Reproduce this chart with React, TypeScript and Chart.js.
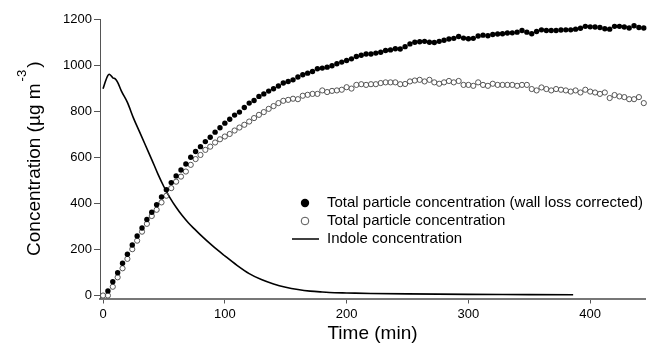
import React, { useEffect, useRef } from "react";
import { Chart, registerables } from "chart.js";

Chart.register(...registerables);

// ---- Data ----
const sampleTime = [
  0, 4, 8, 12, 16, 20, 24, 28, 32, 36, 40, 44, 48, 52, 56, 60, 64, 68, 72, 76,
  80, 84, 88, 92, 96, 100, 104, 108, 112, 116, 120, 124, 128, 132, 136, 140, 144, 148, 152, 156,
  160, 164, 168, 172, 176, 180, 184, 188, 192, 196, 200, 204, 208, 212, 216, 220, 224, 228, 232, 236,
  240, 244, 248, 252, 256, 260, 264, 268, 272, 276, 280, 284, 288, 292, 296, 300, 304, 308, 312, 316,
  320, 324, 328, 332, 336, 340, 344, 348, 352, 356, 360, 364, 368, 372, 376, 380, 384, 388, 392, 396,
  400, 404, 408, 412, 416, 420, 424, 428, 432, 436, 440, 444,
];

const wallLossCorrected = [
  null, 20, 60, 99, 140, 179, 219, 258, 293, 330, 361, 394, 428, 459, 490, 519, 545, 571, 600, 625,
  646, 668, 687, 709, 728, 748, 765, 783, 796, 816, 835, 846, 864, 875, 887, 897, 909, 922, 929, 936,
  948, 958, 965, 972, 984, 987, 991, 997, 1006, 1013, 1020, 1027, 1037, 1043, 1048, 1048, 1052, 1056, 1063, 1066,
  1071, 1070, 1080, 1092, 1099, 1101, 1103, 1099, 1098, 1103, 1108, 1113, 1116, 1124, 1117, 1114, 1116, 1126, 1130, 1127,
  1133, 1135, 1136, 1139, 1140, 1143, 1150, 1143, 1136, 1146, 1153, 1150, 1150, 1150, 1152, 1153, 1153, 1156, 1160, 1168,
  1166, 1165, 1163, 1158, 1156, 1168, 1168, 1165, 1161, 1171, 1163, 1161,
];

const totalParticle = [
  0, 0, 38, 79, 118, 159, 201, 238, 277, 311, 345, 372, 404, 433, 466, 494, 516, 538, 567, 592,
  610, 632, 646, 664, 678, 690, 701, 716, 729, 741, 755, 770, 784, 796, 810, 822, 835, 845, 849, 854,
  852, 867, 871, 875, 875, 890, 883, 888, 890, 893, 904, 898, 914, 917, 914, 917, 917, 922, 925, 925,
  925, 917, 918, 929, 933, 936, 929, 936, 925, 919, 925, 931, 925, 931, 914, 914, 910, 925, 914, 910,
  919, 914, 914, 914, 914, 910, 914, 914, 896, 890, 903, 896, 890, 896, 893, 890, 885, 890, 881, 893,
  885, 881, 875, 881, 857, 870, 864, 861, 852, 852, 861, 835,
];

const indoleTime = [
  0, 2, 4, 5, 6, 8, 10, 12, 15, 20, 25, 30, 35, 40, 45, 50, 55, 60, 65, 70,
  75, 80, 90, 100, 110, 120, 130, 140, 150, 160, 170, 180, 190, 200, 220, 250, 300, 350, 386,
];
const indoleValue = [
  897, 930, 955, 960, 957, 945, 940, 925, 888, 838, 770, 710, 650, 590, 528, 472, 424, 383, 347, 316,
  289, 263, 215, 172, 131, 95, 69, 50, 36, 26, 19, 15, 12, 11, 9, 7, 5, 4, 3,
];

const xTicks = [0, 100, 200, 300, 400];
const yTicks = [0, 200, 400, 600, 800, 1000, 1200];

const legendLabels = [
  "Total particle concentration (wall loss corrected)",
  "Total particle concentration",
  "Indole concentration",
];
const xTitle = "Time (min)";
const yTitleMain = "Concentration (µg m";
const yTitleSup = "-3";
const yTitleEnd = ")";

const FONT = '"Liberation Sans", Arial, sans-serif';

const overlayPlugin = {
  id: "overlay",
  afterDraw(chart: any) {
    const ctx: CanvasRenderingContext2D = chart.ctx;
    const { left, right, top, bottom } = chart.chartArea;
    ctx.save();
    ctx.fillStyle = "#000";

    // X title
    ctx.font = `19px ${FONT}`;
    ctx.textAlign = "center";
    ctx.textBaseline = "middle";
    ctx.fillText(xTitle, (left + right) / 2, 334);

    // Y title (rotated with superscript)
    ctx.save();
    ctx.translate(40, (top + bottom) / 2);
    ctx.rotate(-Math.PI / 2);
    ctx.textAlign = "left";
    ctx.textBaseline = "alphabetic";
    ctx.font = `19px ${FONT}`;
    const w1 = ctx.measureText(yTitleMain).width;
    const w3 = ctx.measureText(yTitleEnd).width;
    ctx.font = `13px ${FONT}`;
    const w2 = ctx.measureText(yTitleSup).width;
    const gap = 2;
    const total = w1 + gap + w2 + gap + w3;
    let x0 = -total / 2;
    ctx.font = `19px ${FONT}`;
    ctx.fillText(yTitleMain, x0, 0);
    x0 += w1 + gap;
    ctx.font = `13px ${FONT}`;
    ctx.fillText(yTitleSup, x0, -14);
    x0 += w2 + gap;
    ctx.font = `19px ${FONT}`;
    ctx.fillText(yTitleEnd, x0, 0);
    ctx.restore();

    // Legend
    const rows = [203, 221, 239];
    ctx.font = `15px ${FONT}`;
    ctx.textAlign = "left";
    ctx.textBaseline = "middle";
    ctx.beginPath();
    ctx.arc(305, rows[0], 4.2, 0, Math.PI * 2);
    ctx.fillStyle = "#000";
    ctx.fill();
    ctx.beginPath();
    ctx.arc(305, rows[1], 3.8, 0, Math.PI * 2);
    ctx.strokeStyle = "#555";
    ctx.lineWidth = 1;
    ctx.stroke();
    ctx.beginPath();
    ctx.moveTo(292, rows[2]);
    ctx.lineTo(319, rows[2]);
    ctx.strokeStyle = "#000";
    ctx.lineWidth = 1.5;
    ctx.stroke();
    ctx.fillStyle = "#000";
    legendLabels.forEach((label, i) => {
      ctx.fillText(label, 327, rows[i]);
    });
    ctx.restore();
  },
};

export default function App() {
  const ref = useRef<HTMLCanvasElement>(null);

  useEffect(() => {
    const filledPts = sampleTime.map((t, i) => ({ x: t, y: wallLossCorrected[i] }));
    const openPts = sampleTime.map((t, i) => ({ x: t, y: totalParticle[i] }));
    const indolePts = indoleTime.map((t, i) => ({ x: t, y: indoleValue[i] }));

    const chart = new Chart(ref.current as HTMLCanvasElement, {
      type: "scatter",
      data: {
        datasets: [
          {
            label: legendLabels[0],
            data: filledPts as any,
            pointRadius: 2.7,
            pointBackgroundColor: "#000",
            pointBorderWidth: 0,
            pointBorderColor: "#000",
            showLine: false,
            clip: false as any,
          },
          {
            label: legendLabels[1],
            data: openPts as any,
            pointRadius: 2.6,
            pointBackgroundColor: "rgba(255,255,255,0)",
            pointBorderColor: "#555",
            pointBorderWidth: 1,
            showLine: false,
            clip: false as any,
          },
          {
            label: legendLabels[2],
            data: indolePts as any,
            showLine: true,
            pointRadius: 0,
            borderColor: "#000",
            borderWidth: 1.6,
            cubicInterpolationMode: "monotone",
            clip: false as any,
          } as any,
        ],
      },
      options: {
        responsive: false,
        animation: false,
        devicePixelRatio: 1,
        layout: { padding: { top: 19, right: 9, left: 0, bottom: 0 } },
        plugins: {
          legend: { display: false },
          tooltip: { enabled: false },
        },
        scales: {
          x: {
            type: "linear",
            min: -2.5,
            max: 445,
            afterFit: (s: any) => {
              s.height = 50.5;
            },
            afterBuildTicks: (s: any) => {
              s.ticks = xTicks.map((v) => ({ value: v }));
            },
            grid: {
              display: true,
              drawOnChartArea: false,
              drawTicks: true,
              tickLength: 5,
              tickColor: "#555",
              tickWidth: 1,
            },
            border: { display: true, color: "#777", width: 2 },
            ticks: {
              font: { family: FONT, size: 13 },
              color: "#000",
              padding: 3,
              maxRotation: 0,
              autoSkip: false,
              callback: (v: any) => String(v),
            },
          },
          y: {
            type: "linear",
            min: -13,
            max: 1200,
            afterFit: (s: any) => {
              s.width = 100;
            },
            afterBuildTicks: (s: any) => {
              s.ticks = yTicks.map((v) => ({ value: v }));
            },
            grid: {
              display: true,
              drawOnChartArea: false,
              drawTicks: true,
              tickLength: 6,
              tickColor: "#555",
              tickWidth: 1,
            },
            border: { display: true, color: "#555", width: 1 },
            ticks: {
              font: { family: FONT, size: 13 },
              color: "#000",
              padding: 2,
              autoSkip: false,
              callback: (v: any) => String(v),
            },
          },
        },
      },
      plugins: [overlayPlugin],
    });
    return () => chart.destroy();
  }, []);

  return (
    <div
      style={{
        position: "absolute",
        left: 0,
        top: 0,
        width: 654,
        height: 349,
        background: "#fff",
      }}
    >
      <canvas ref={ref} width={654} height={349} style={{ display: "block" }} />
    </div>
  );
}
